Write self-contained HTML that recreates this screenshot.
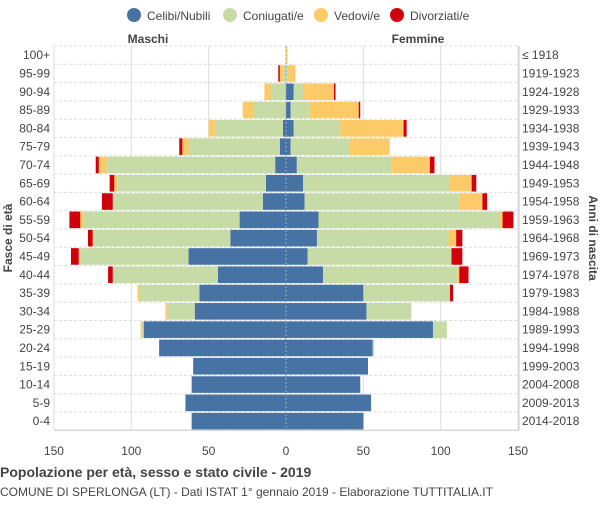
<!DOCTYPE html>
<html><head><meta charset="utf-8"><style>
body{margin:0;background:#fff;font-family:"Liberation Sans",sans-serif;}
svg text{font-family:"Liberation Sans",sans-serif;}
</style></head><body>
<svg id="c" width="600" height="500" xmlns="http://www.w3.org/2000/svg">
<g id="legend">
 <g><circle cx="134" cy="15" r="7" fill="#4672a4"/><text x="147" y="20" font-size="12" fill="#444">Celibi/Nubili</text></g>
 <g><circle cx="230" cy="15" r="7" fill="#c6dba6"/><text x="243" y="20" font-size="12" fill="#444">Coniugati/e</text></g>
 <g><circle cx="321" cy="15" r="7" fill="#fdca68"/><text x="334" y="20" font-size="12" fill="#444">Vedovi/e</text></g>
 <g><circle cx="397" cy="15" r="7" fill="#d0000d"/><text x="410" y="20" font-size="12" fill="#444">Divorziati/e</text></g>
</g>
<text x="148" y="43" font-size="12" font-weight="bold" fill="#444" text-anchor="middle">Maschi</text>
<text x="418" y="43" font-size="12" font-weight="bold" fill="#444" text-anchor="middle">Femmine</text>
<g id="grid"></g><g id="bars"></g><g id="labels"></g>
<text transform="translate(12,238) rotate(-90)" font-size="12" font-weight="bold" fill="#444" text-anchor="middle">Fasce di età</text>
<text transform="translate(589,238) rotate(90)" font-size="12" font-weight="bold" fill="#444" text-anchor="middle">Anni di nascita</text>
<text x="0" y="477" font-size="14" font-weight="bold" fill="#444">Popolazione per età, sesso e stato civile - 2019</text>
<text x="0" y="496" font-size="12" fill="#444">COMUNE DI SPERLONGA (LT) - Dati ISTAT 1° gennaio 2019 - Elaborazione TUTTITALIA.IT</text>
</svg>
<script>
const ages=["100+","95-99","90-94","85-89","80-84","75-79","70-74","65-69","60-64","55-59","50-54","45-49","40-44","35-39","30-34","25-29","20-24","15-19","10-14","5-9","0-4"];
const births=["≤ 1918","1919-1923","1924-1928","1929-1933","1934-1938","1939-1943","1944-1948","1949-1953","1954-1958","1959-1963","1964-1968","1969-1973","1974-1978","1979-1983","1984-1988","1989-1993","1994-1998","1999-2003","2004-2008","2009-2013","2014-2018"];
const mCel=[0,0,0,0,2,4,7,13,15,30,36,63,44,56,59,92,82,60,61,65,61];
const mCon=[0,2,10,21,44,59,109,96,97,101,88,70,68,39,18,1,0,0,0,0,0];
const mVed=[0,2,4,7,4,4,5,2,0,2,1,1,0,1,1,1,0,0,0,0,0];
const mDiv=[0,1,0,0,0,2,2,3,7,7,3,5,3,0,0,0,0,0,0,0,0];
const fCel=[0,0,5,3,5,3,7,11,12,21,20,14,24,50,52,95,56,53,48,55,50];
const fCon=[0,1,6,12,30,38,61,95,100,117,85,93,87,56,29,9,1,0,0,0,0];
const fVed=[1,5,20,32,41,26,25,14,15,2,5,0,1,0,0,0,0,0,0,0,0];
const fDiv=[0,0,1,1,2,0,3,3,3,7,4,7,6,2,0,0,0,0,0,0,0];
const ticks=[-150,-100,-50,0,50,100,150];
const NS="http://www.w3.org/2000/svg";
const cx=286,k=1.547,top0=46,rowH=18.3,barH=16.6;
const x=v=>cx+v*k, yC=i=>top0+rowH*i+rowH/2;
function mk(t,a,p){const e=document.createElementNS(NS,t);for(const n in a)e.setAttribute(n,a[n]);p.appendChild(e);return e;}
const grid=document.getElementById('grid'),bars=document.getElementById('bars'),lab=document.getElementById('labels');
ticks.forEach(t=>{const l=mk('line',{x1:x(t),x2:x(t),y1:top0,y2:top0+rowH*ages.length,stroke:'#ddd','stroke-width':1},grid);

const tx=mk('text',{x:x(t),y:455,'font-size':12,fill:'#444','text-anchor':'middle'},lab);tx.textContent=Math.abs(t);
});
for(let i=0;i<=ages.length;i++){const l=mk('line',{x1:54,x2:519,y1:top0+rowH*i,y2:top0+rowH*i,stroke:'#ddd','stroke-dasharray':'3,2'},grid);
}
const cols=['#4672a4','#c6dba6','#fdca68','#d0000d'];
ages.forEach((a,i)=>{
 const y=yC(i)-barH/2;
 let acc=0;[mCel[i],mCon[i],mVed[i],mDiv[i]].forEach((v,j)=>{if(v>0){const r=mk('rect',{x:x(-(acc+v)),y:y,width:v*k,height:barH,fill:cols[j]},bars);
 }acc+=v;});
 acc=0;[fCel[i],fCon[i],fVed[i],fDiv[i]].forEach((v,j)=>{if(v>0){const r=mk('rect',{x:x(acc),y:y,width:v*k,height:barH,fill:cols[j]},bars);
 }acc+=v;});
 const t1=mk('text',{x:50,y:yC(i)+4,'font-size':12,fill:'#444','text-anchor':'end'},lab);t1.textContent=a;
 
 const t2=mk('text',{x:522,y:yC(i)+4,'font-size':12,fill:'#444'},lab);t2.textContent=births[i];
 
});
const c=mk('line',{x1:cx,x2:cx,y1:top0,y2:top0+rowH*ages.length,stroke:'#9ab','stroke-dasharray':'2,2'},bars);

const b=mk('line',{x1:519,x2:519,y1:top0,y2:top0+rowH*ages.length,stroke:'#ccc'},grid);

const b2=mk('line',{x1:54,x2:519,y1:top0+rowH*ages.length,y2:top0+rowH*ages.length,stroke:'#ccc'},grid);

</script>
</body></html>
